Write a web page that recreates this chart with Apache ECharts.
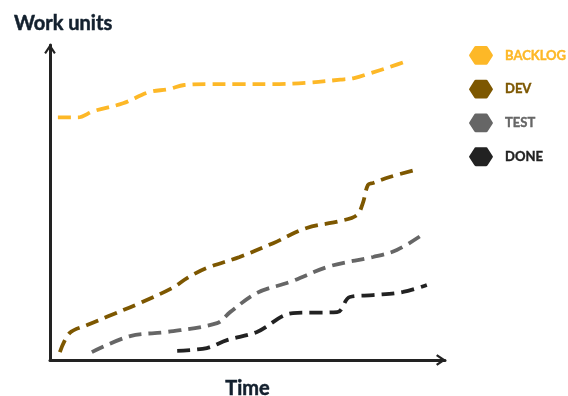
<!DOCTYPE html>
<html>
<head>
<meta charset="utf-8">
<script src="https://cdn.jsdelivr.net/npm/echarts@6/dist/echarts.min.js"></script>
<style>
  html, body { margin: 0; padding: 0; background: #fff; }
  #chart { width: 568px; height: 396px; }
</style>
</head>
<body>
<div id="chart"></div>
<script>
// series names (legend order)
const names = ['BACKLOG', 'DEV', 'TEST', 'DONE'];
const colors = ['#fdb827', '#7d5700', '#666666', '#222222'];

// time / work-unit readings, one pair of arrays per series
const backlogT = [2, 7, 11, 18.5, 25, 30, 34, 40, 48, 56.5, 65, 73.5, 77, 81, 86, 91];
const backlogV = [77, 77, 79, 81.5, 85, 86, 87.3, 87.6, 87.6, 87.6, 88, 89, 89.5, 91, 93, 95.2];

const devT = [2.5, 5, 9.4, 14.4, 22.8, 31, 34.7, 39.7, 48, 56.5, 65, 73.4, 77.7, 79.2, 80.5, 81.8, 86, 92.4];
const devV = [2.5, 8.6, 11.1, 13.7, 18.1, 22.9, 26, 29.2, 32.7, 37.1, 41.9, 44.1, 46, 49.8, 55.6, 56.2, 58.1, 60.3];

const testT = [10.6, 20.3, 29.6, 42.3, 45.6, 52.4, 60.8, 70.9, 81.8, 87.8, 94.9];
const testV = [2.5, 7.6, 8.9, 11.7, 15.2, 21.3, 24.8, 29.8, 32.7, 34.9, 40.3];

const doneT = [32.2, 39.7, 44.8, 52.4, 61.5, 72.7, 75.9, 81.8, 89.4, 95.4];
const doneV = [2.9, 3.8, 6.3, 8.9, 14.9, 15.2, 20, 20.6, 21.6, 23.8];

const seriesT = [backlogT, devT, testT, doneT];
const seriesV = [backlogV, devV, testV, doneV];

const chart = echarts.init(document.getElementById('chart'));

// chevron arrow for axis ends (tip up, rotated by echarts)
const arrow = 'path://M0,9 L6,0 L12,9 L10.2,10.4 L6,4.2 L1.8,10.4 Z';
// hexagon for legend icons
const hexagon = 'path://M1,10 Q0,9 1,8 L5.5,1 Q6,0 7,0 L17,0 Q18,0 18.5,1 L23,8 Q24,9 23,10 L18.5,17 Q18,18 17,18 L7,18 Q6,18 5.5,17 Z';

const axisLine = {
    show: true,
    symbol: ['none', arrow],
    symbolSize: [13, 10],
    symbolOffset: [0, -4],
    lineStyle: { color: '#222', width: 3 }
};

const titleFont = { fontFamily: 'Lato', fontWeight: 'bold', color: '#13202e', textBorderColor: '#13202e', textBorderWidth: 0.5 };

const option = {
    animation: false,
    grid: { left: 50, right: 123, top: 45, bottom: 36, outerBoundsMode: 'none', containLabel: false },
    xAxis: {
        type: 'value', min: 0, max: 100,
        name: 'Time', nameLocation: 'middle', nameGap: 19,
        nameTextStyle: Object.assign({ fontSize: 20 }, titleFont),
        axisLine: axisLine,
        axisTick: { show: false }, axisLabel: { show: false }, splitLine: { show: false }
    },
    yAxis: {
        type: 'value', min: 0, max: 100,
        name: 'Work units', nameLocation: 'end', nameGap: 11,
        nameTextStyle: Object.assign({ fontSize: 20, align: 'left', padding: [0, 0, 0, -36] }, titleFont),
        axisLine: axisLine,
        axisTick: { show: false }, axisLabel: { show: false }, splitLine: { show: false }
    },
    legend: {
        orient: 'vertical', left: 469, top: 46, padding: 0,
        icon: hexagon, itemWidth: 24, itemHeight: 21, itemGap: 15,
        itemStyle: { borderWidth: 0 },
        textStyle: { fontFamily: 'Lato', fontWeight: 'bold', fontSize: 13, padding: [0, 0, 0, 7] },
        data: names.map((n, i) => ({ name: n, textStyle: { color: colors[i], textBorderColor: colors[i], textBorderWidth: 0.4 } }))
    },
    series: names.map((n, i) => ({
        name: n,
        type: 'line',
        smooth: 0.35,
        showSymbol: false,
        color: colors[i],
        lineStyle: { color: colors[i], width: 3.8, type: [13, 7], cap: 'butt' },
        data: seriesT[i].map((t, k) => [t, seriesV[i][k]])
    }))
};

chart.setOption(option);
</script>
</body>
</html>
